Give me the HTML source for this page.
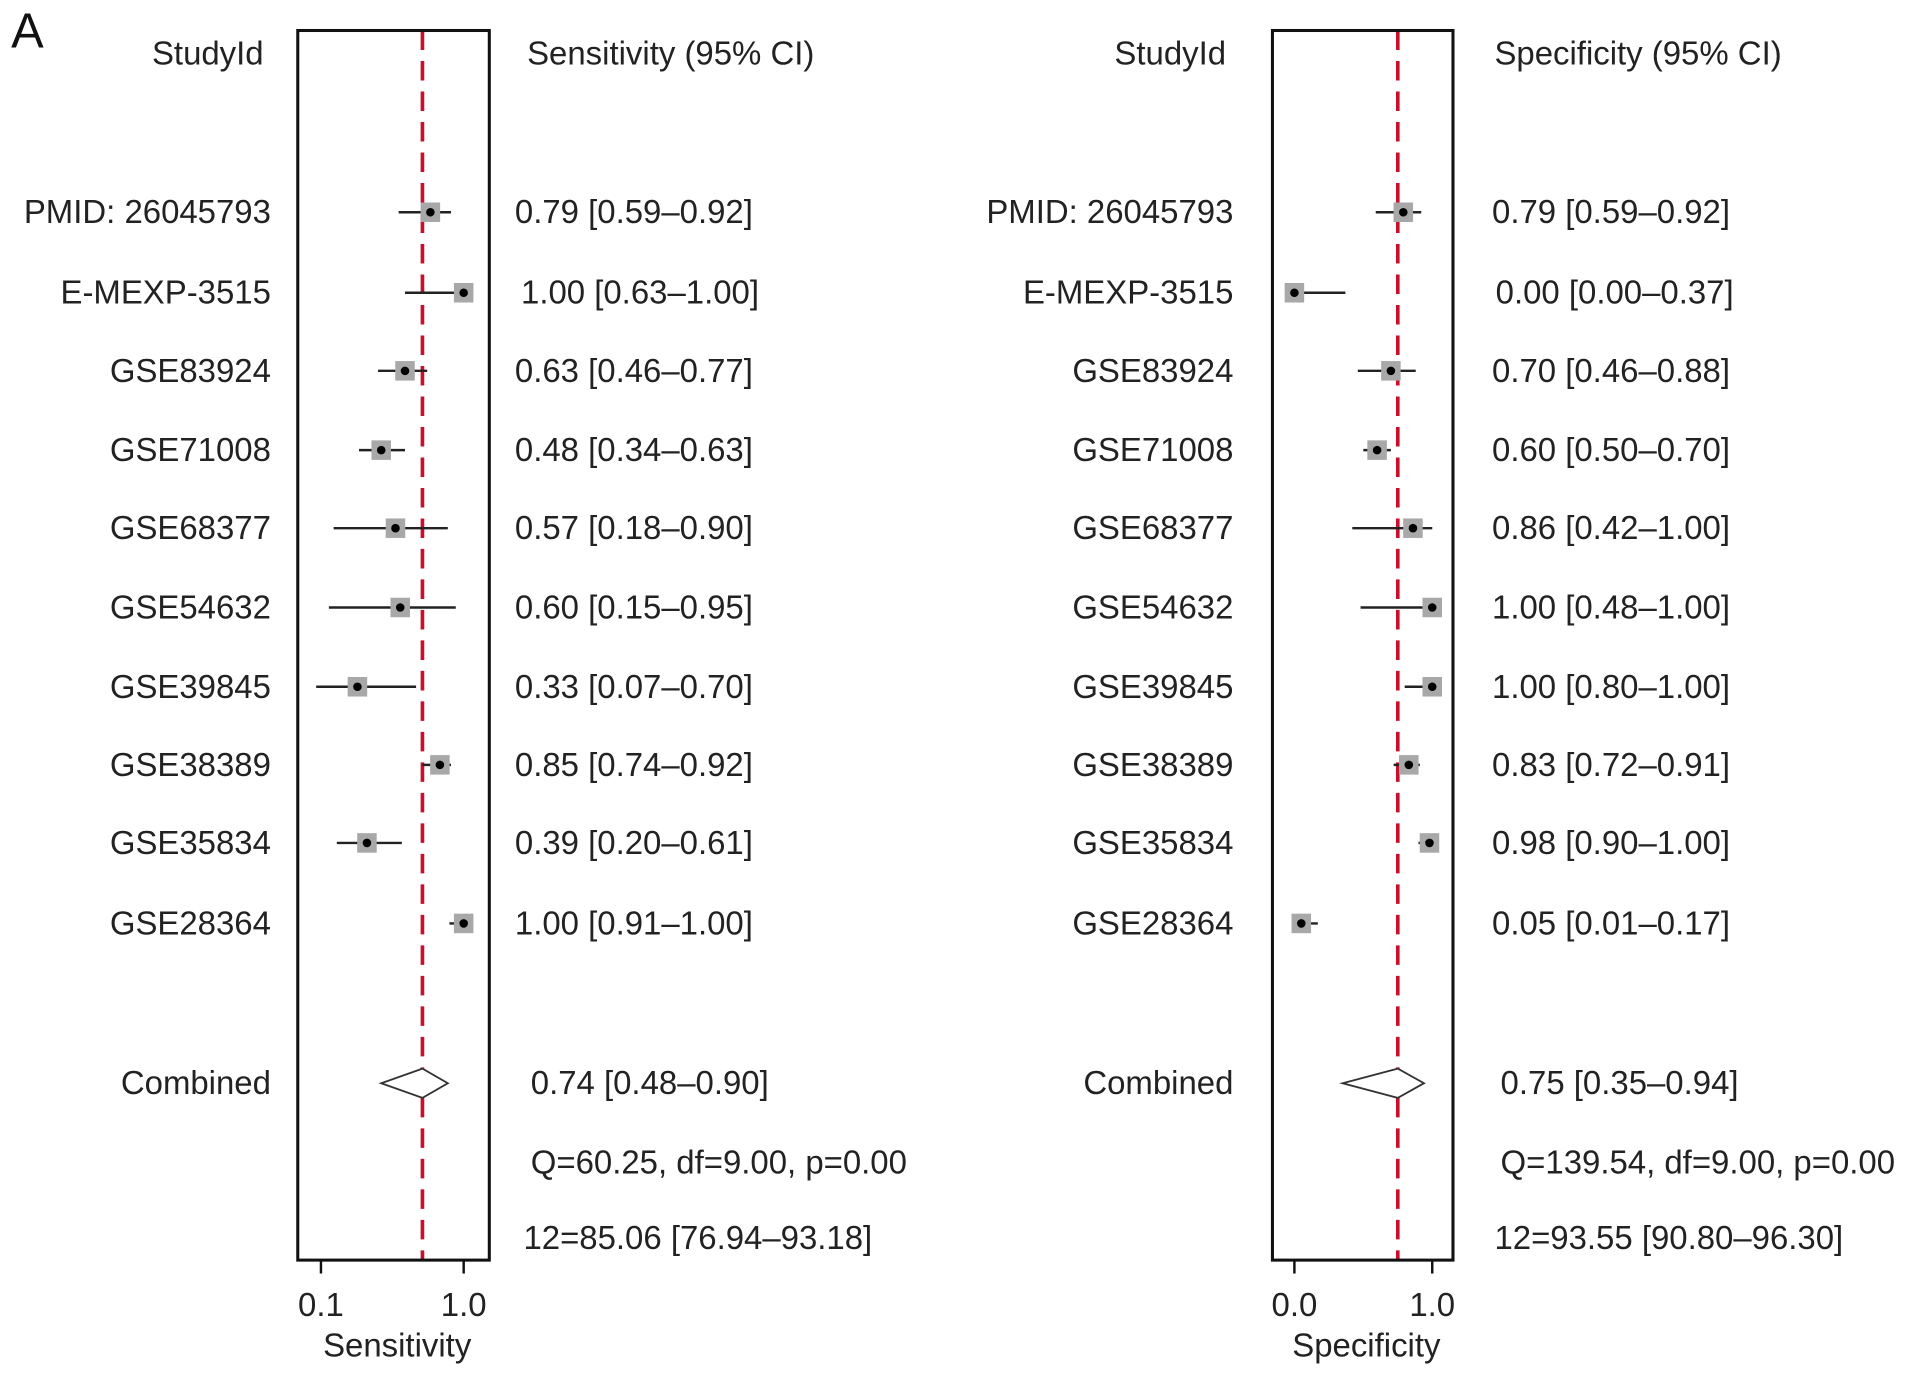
<!DOCTYPE html>
<html><head><meta charset="utf-8"><style>
html,body{margin:0;padding:0;background:#fff}
svg{display:block;font-family:"Liberation Sans",Arial,sans-serif}
</style></head><body>
<svg id="chart" width="1913" height="1376" viewBox="0 0 1568 1128" xmlns="http://www.w3.org/2000/svg">
<text x="9" y="39" font-size="40" fill="#111">A</text>
<g id="gl"></g><g id="gr"></g>
</svg>
<script>
const studies=["PMID: 26045793","E-MEXP-3515","GSE83924","GSE71008","GSE68377","GSE54632","GSE39845","GSE38389","GSE35834","GSE28364"];
const sensVal=[0.79,1.00,0.63,0.48,0.57,0.60,0.33,0.85,0.39,1.00];
const sensLo=[0.59,0.63,0.46,0.34,0.18,0.15,0.07,0.74,0.20,0.91];
const sensHi=[0.92,1.00,0.77,0.63,0.90,0.95,0.70,0.92,0.61,1.00];
const sensPooled=[0.74,0.48,0.90];
const sensStats=["Q=60.25, df=9.00, p=0.00","12=85.06 [76.94–93.18]"];
const specVal=[0.79,0.00,0.70,0.60,0.86,1.00,1.00,0.83,0.98,0.05];
const specLo=[0.59,0.00,0.46,0.50,0.42,0.48,0.80,0.72,0.90,0.01];
const specHi=[0.92,0.37,0.88,0.70,1.00,1.00,1.00,0.91,1.00,0.17];
const specPooled=[0.75,0.35,0.94];
const specStats=["Q=139.54, df=9.00, p=0.00","12=93.55 [90.80–96.30]"];
const sensTicks=[0.1,1.0];
const specTicks=[0.0,1.0];

const NS="http://www.w3.org/2000/svg";
const FS=27;
const rowY=[174,240,304,369,433,498,563,627,691,757];
const f=v=>v.toFixed(2);
function mk(p,tag,attrs,txt){const e=document.createElementNS(NS,tag);for(const k in attrs)e.setAttribute(k,attrs[k]);if(txt!==undefined)e.textContent=txt;p.appendChild(e);return e;}

function panel(g,cfg){
  const sx=v=>cfg.x0+(v-cfg.v0)*cfg.k;
  let t=mk(g,'text',{x:cfg.labelX-6,y:53,'font-size':FS,'text-anchor':'end',fill:'#222'},'StudyId');
  
  
  t=mk(g,'text',{x:cfg.headX,y:53,'font-size':FS,fill:'#222'},cfg.header);
  
  
  const ref=sx(cfg.pooled[0]);
  let ln=mk(g,'line',{x1:ref,x2:ref,y1:25,y2:1033,stroke:'#c8102e','stroke-width':3,'stroke-dasharray':'16 9'});
  
  
  let box=mk(g,'rect',{x:cfg.bx0,y:25,width:cfg.bx1-cfg.bx0,height:1008,fill:'none',stroke:'#111','stroke-width':2.5});
  
  
  cfg.vals.forEach((v,i)=>{
    const y=rowY[i];
    t=mk(g,'text',{x:cfg.labelX,y:y+9,'font-size':FS,'text-anchor':'end',fill:'#222'},studies[i]);
    
    
    ln=mk(g,'line',{x1:sx(cfg.lo[i]),x2:sx(cfg.hi[i]),y1:y,y2:y,stroke:'#222','stroke-width':2});
    
    
    const s=16;
    let r=mk(g,'rect',{x:sx(v)-s/2,y:y-s/2,width:s,height:s,fill:'#a8a8a8'});
    
    
    let c=mk(g,'circle',{cx:sx(v),cy:y,r:3.5,fill:'#000'});
    
    
    t=mk(g,'text',{x:cfg.txtX+(v===1&&cfg.lo[i]<0.9&&cfg.id==='sens'?5:0)+(cfg.id==='spec'&&i===1?3:0),y:y+9,'font-size':FS,fill:'#222'},f(v)+' ['+f(cfg.lo[i])+'–'+f(cfg.hi[i])+']');
    
    
  });
  const cy=888;
  t=mk(g,'text',{x:cfg.labelX,y:cy+9,'font-size':FS,'text-anchor':'end',fill:'#222'},'Combined');
  
  
  let d=mk(g,'polygon',{points:`${sx(cfg.pooled[1])},${cy} ${ref},${cy-12} ${sx(cfg.pooled[2])},${cy} ${ref},${cy+12}`,fill:'#fff',stroke:'#333','stroke-width':1.5});
  
  
  t=mk(g,'text',{x:cfg.txtX+cfg.cOff,y:cy+9,'font-size':FS,fill:'#222'},f(cfg.pooled[0])+' ['+f(cfg.pooled[1])+'–'+f(cfg.pooled[2])+']');
  
  
  t=mk(g,'text',{x:cfg.txtX+cfg.cOff,y:962,'font-size':FS,fill:'#222'},cfg.stats[0]);
  
  
  t=mk(g,'text',{x:cfg.txtX+cfg.iOff,y:1024,'font-size':FS,fill:'#222'},cfg.stats[1]);
  
  
  cfg.ticks.forEach(v=>{
    ln=mk(g,'line',{x1:sx(v),x2:sx(v),y1:1033,y2:1044,stroke:'#111','stroke-width':2});
    
    
    t=mk(g,'text',{x:sx(v),y:1079,'font-size':FS,'text-anchor':'middle',fill:'#222'},v.toFixed(1));
    
    
  });
  t=mk(g,'text',{x:(cfg.bx0+cfg.bx1)/2+3,y:1112,'font-size':FS,'text-anchor':'middle',fill:'#222'},cfg.axis);
  
  
}
panel(document.getElementById('gl'),{id:'sens',x0:263,v0:0.1,k:130,bx0:244,bx1:401,labelX:222,headX:432,txtX:422,cOff:13,iOff:7,
  header:'Sensitivity (95% CI)',axis:'Sensitivity',vals:sensVal,lo:sensLo,hi:sensHi,pooled:sensPooled,stats:sensStats,ticks:sensTicks});
panel(document.getElementById('gr'),{id:'spec',x0:1061,v0:0,k:113,bx0:1043,bx1:1191,labelX:1011,headX:1225,txtX:1223,cOff:7,iOff:2,
  header:'Specificity (95% CI)',axis:'Specificity',vals:specVal,lo:specLo,hi:specHi,pooled:specPooled,stats:specStats,ticks:specTicks});
</script>
</body></html>
